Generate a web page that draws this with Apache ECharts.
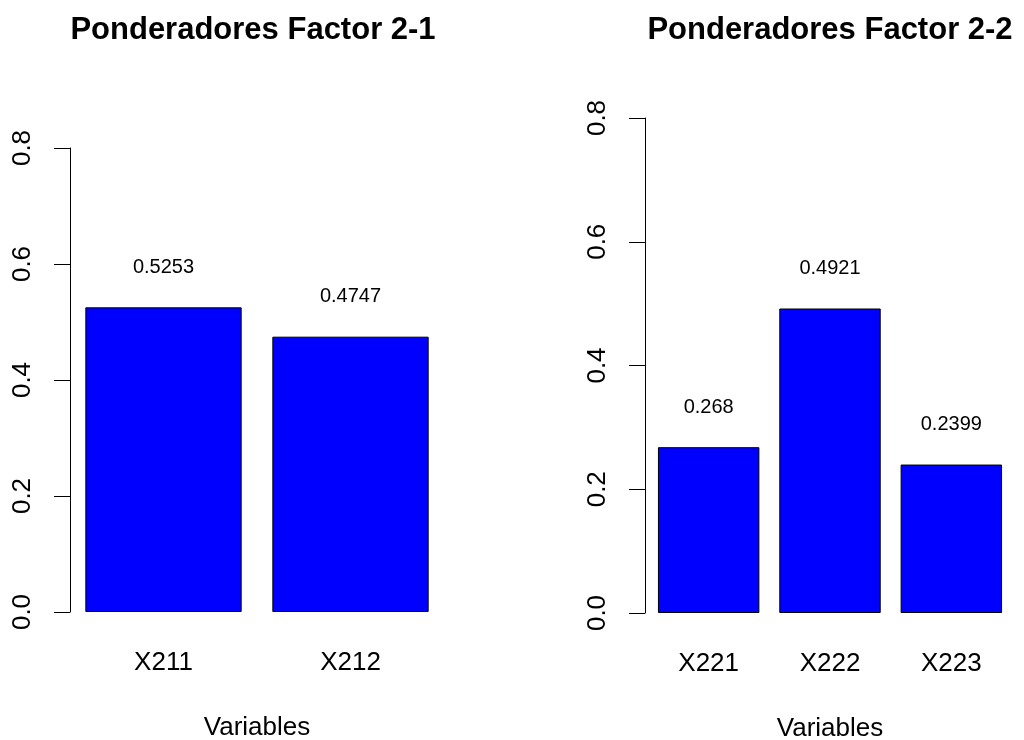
<!DOCTYPE html>
<html>
<head>
<meta charset="utf-8">
<script src="https://cdn.jsdelivr.net/npm/echarts@6/dist/echarts.min.js"></script>
<style>
  html, body { margin: 0; padding: 0; background: #fff; }
  #chart { width: 1024px; height: 740px; }
</style>
</head>
<body>
<div id="chart"></div>
<script>
const titles = ['Ponderadores Factor 2-1', 'Ponderadores Factor 2-2'];
const categories1 = ['X211', 'X212'];
const weights1 = [0.5253, 0.4747];
const categories2 = ['X221', 'X222', 'X223'];
const weights2 = [0.268, 0.4921, 0.2399];
const xName = 'Variables';
const yMax = 0.8;
const yStep = 0.2;

const FONT = '"Liberation Sans", Arial, sans-serif';

const yAxisBase = (gridIndex, offset) => ({
  type: 'value',
  gridIndex,
  offset,
  min: 0,
  max: yMax,
  interval: yStep,
  splitLine: { show: false },
  axisLine: { show: true, lineStyle: { color: '#000', width: 1 } },
  axisTick: { show: true, length: 16, lineStyle: { color: '#000', width: 1 } },
  axisLabel: {
    rotate: 90,
    margin: 34,
    fontSize: 26,
    color: '#000',
    fontFamily: FONT,
    formatter: v => v.toFixed(1)
  }
});

const xAxisBase = (gridIndex, data) => ({
  type: 'category',
  gridIndex,
  data,
  name: xName,
  nameLocation: 'middle',
  nameGap: 103,
  nameTextStyle: { fontSize: 26, color: '#000', fontFamily: FONT },
  axisLine: { show: false },
  axisTick: { show: false },
  axisLabel: { margin: 38, fontSize: 26, color: '#000', fontFamily: FONT }
});

const barSeries = (index, data) => ({
  type: 'bar',
  xAxisIndex: index,
  yAxisIndex: index,
  data,
  barWidth: '83.6%',
  itemStyle: { color: '#0000ff', borderColor: '#000', borderWidth: 1 },
  label: {
    show: true,
    position: 'top',
    distance: 30,
    fontSize: 20,
    color: '#000',
    fontFamily: FONT
  }
});

const chart = echarts.init(document.getElementById('chart'), null, { renderer: 'canvas' });
chart.setOption({
  animation: false,
  backgroundColor: '#fff',
  title: [
    {
      text: titles[0], left: 253, top: 15, textAlign: 'center', padding: 0,
      textStyle: { fontSize: 31, fontWeight: 'bold', color: '#000', fontFamily: FONT }
    },
    {
      text: titles[1], left: 830, top: 15, textAlign: 'center', padding: 0,
      textStyle: { fontSize: 31, fontWeight: 'bold', color: '#000', fontFamily: FONT }
    }
  ],
  grid: [
    { left: 70, top: 148, width: 374, height: 464, outerBoundsMode: 'none' },
    { left: 648, top: 118, width: 364, height: 495, outerBoundsMode: 'none' }
  ],
  xAxis: [xAxisBase(0, categories1), xAxisBase(1, categories2)],
  yAxis: [yAxisBase(0, 0), yAxisBase(1, 3)],
  series: [barSeries(0, weights1), barSeries(1, weights2)]
});
</script>
</body>
</html>
